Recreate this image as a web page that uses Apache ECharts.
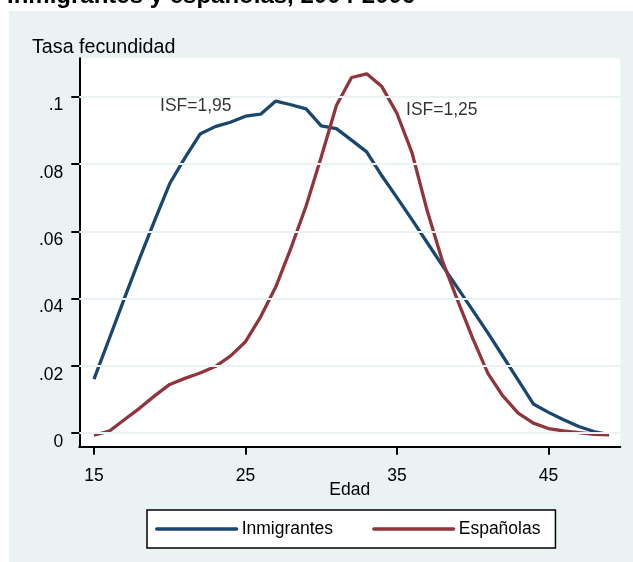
<!DOCTYPE html>
<html><head><meta charset="utf-8">
<script src="https://cdn.jsdelivr.net/npm/echarts@6/dist/echarts.min.js"></script>
<style>
html,body{margin:0;padding:0;background:#fff;}
#bg{position:absolute;left:9px;top:11px;width:624px;height:551px;background:#eaf2f3;}
#chart{position:absolute;left:0;top:0;width:633px;height:562px;}
</style></head><body>
<div id="bg"></div><div id="chart"></div>
<script>
const ages = [15,16,17,18,19,20,21,22,23,24,25,26,27,28,29,30,31,32,33,34,35,36,37,38,39,40,41,42,43,44,45,46,47,48,49];
const inmigrantes = [0.0161,0.0280,0.0400,0.0518,0.0632,0.0742,0.0818,0.0889,0.0911,0.0924,0.0942,0.0948,0.0987,0.0976,0.0964,0.0913,0.0905,0.0871,0.0836,0.0765,0.0700,0.0634,0.0566,0.0498,0.0432,0.0365,0.0298,0.0228,0.0158,0.0087,0.0062,0.0040,0.0020,0.0005,-0.0004];
const espanolas = [-0.0006,0.0006,0.0040,0.0074,0.0111,0.0145,0.0163,0.0179,0.0198,0.0229,0.0272,0.0346,0.0435,0.0550,0.0675,0.0821,0.0974,0.1057,0.1068,0.1030,0.0950,0.0832,0.0660,0.0512,0.0395,0.0282,0.0178,0.0110,0.0060,0.0030,0.0014,0.0007,0.0002,-0.0003,-0.0005];
const seriesNames = ['Inmigrantes','Españolas'];
const xTickValues = [15,25,35,45];
const yTickValues = [0,0.02,0.04,0.06,0.08,0.1];
const yTickLabels = ['0','.02','.04','.06','.08','.1'];
const annotations = [
  {text:'ISF=1,95', age:19.36, value:0.0972},
  {text:'ISF=1,25', age:35.6, value:0.0959}
];
const titleText = 'Inmigrantes y españolas, 2004-2006';
const yAxisTitle = 'Tasa fecundidad';
const xAxisTitle = 'Edad';

const FONT = "'Liberation Sans', Arial, Helvetica, sans-serif";
const FS = 17.5;
const BLUE = '#1a476f';
const RED = '#90353b';
const GRIDC = '#eaf2f3';

const chart = echarts.init(document.getElementById('chart'), null, {renderer:'canvas'});
const toPairs = vals => ages.map((a,i)=>[a, vals[i]]);

chart.setOption({
  animation:false,
  backgroundColor:'transparent',
  title:[
    {text:titleText, left:7, top:-15.3, padding:0,
     textStyle:{fontFamily:FONT, fontSize:24, fontWeight:'bold', color:'#000'}},
    {text:yAxisTitle, left:32, top:37.5, padding:0,
     textStyle:{fontFamily:FONT, fontSize:19.7, fontWeight:'normal', color:'#000'}}
  ],
  grid:{left:79.3, top:58.3, width:541, height:388.4, show:true, backgroundColor:'#fff', borderWidth:0},
  legend:{
    data:seriesNames, left:147, top:510, orient:'horizontal',
    padding:[10,15,10,8], itemGap:39, itemWidth:80, itemHeight:16,
    borderColor:'#000', borderWidth:1.5, backgroundColor:'#fff',
    selectedMode:false,
    itemStyle:{opacity:0, borderWidth:0},
    lineStyle:{width:3.3, cap:'round'},
    textStyle:{fontFamily:FONT, fontSize:FS, color:'#000'}
  },
  xAxis:{
    type:'value', min:14.03, max:49.74,
    axisLine:{onZero:false, lineStyle:{color:'#000', width:2}},
    axisTick:{customValues:xTickValues, length:8, lineStyle:{color:'#000', width:2}},
    axisLabel:{customValues:xTickValues, color:'#000', fontFamily:FONT, fontSize:FS, margin:20},
    splitLine:{show:false},
    name:xAxisTitle, nameLocation:'middle', nameGap:34, nameMoveOverlap:false,
    nameTextStyle:{fontFamily:FONT, fontSize:FS, color:'#000'}
  },
  yAxis:{
    type:'value', min:-0.004, max:0.1114,
    axisLine:{show:true, onZero:false, lineStyle:{color:'#000', width:2}},
    axisTick:{show:true, customValues:yTickValues, length:8, lineStyle:{color:'#000', width:2}},
    axisLabel:{customValues:yTickValues, color:'#000', fontFamily:FONT, fontSize:FS, margin:16,
      verticalAlign:'top', lineHeight:18,
      formatter:function(v){
        const i = yTickValues.findIndex(t=>Math.abs(t-v)<1e-9);
        return i>=0 ? yTickLabels[i] : '';
      }},
    splitLine:{show:false}
  },
  series:[
    {
      name:'_grid', type:'line', data:[], z:1, silent:true,
      markLine:{
        silent:true, symbol:['none','none'], label:{show:false},
        lineStyle:{color:GRIDC, width:2, type:'solid'},
        emphasis:{disabled:true},
        data:yTickValues.map(v=>({yAxis:v}))
      }
    },
    {
      name:seriesNames[0], type:'line', data:toPairs(inmigrantes), symbol:'none', showSymbol:false,
      z:3, lineStyle:{color:BLUE, width:3.3}, itemStyle:{color:BLUE}
    },
    {
      name:seriesNames[1], type:'line', data:toPairs(espanolas), symbol:'none', showSymbol:false,
      z:3, lineStyle:{color:RED, width:3.3}, itemStyle:{color:RED}
    },
    {
      name:'_annot', type:'scatter', symbolSize:0, z:4, silent:true,
      data:annotations.map(a=>({value:[a.age,a.value], label:{formatter:a.text}})),
      label:{show:true, position:'right', distance:0, fontFamily:FONT, fontSize:FS, color:'#000'}
    }
  ]
});
</script>
</body></html>
